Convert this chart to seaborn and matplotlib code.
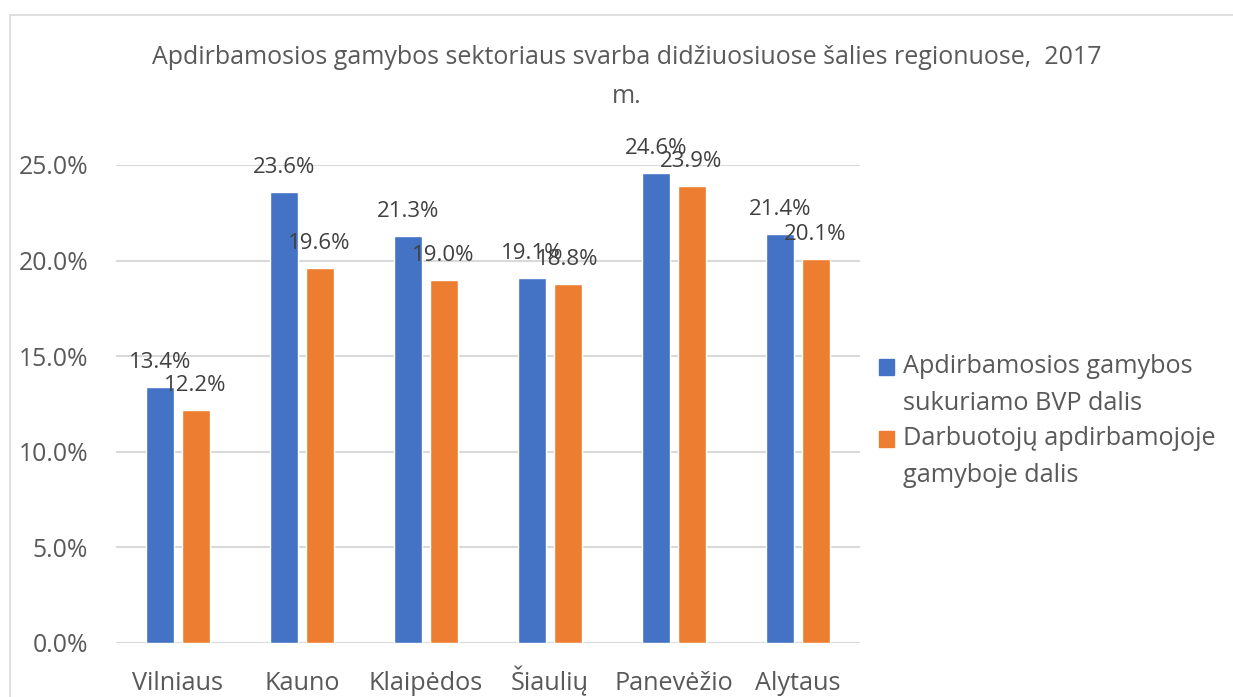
import matplotlib
matplotlib.use("Agg")
import matplotlib.pyplot as plt
import seaborn as sns
import pandas as pd
from matplotlib.patches import Rectangle
from matplotlib.legend_handler import HandlerPatch
from matplotlib.ticker import FuncFormatter, MultipleLocator

regions = ["Vilniaus", "Kauno", "Klaipėdos", "Šiaulių", "Panevėžio", "Alytaus"]
series_names = ["Apdirbamosios gamybos\nsukuriamo BVP dalis",
                "Darbuotojų apdirbamojoje\ngamyboje dalis"]
gdp_share = [13.4, 23.6, 21.3, 19.1, 24.6, 21.4]
emp_share = [12.2, 19.6, 19.0, 18.8, 23.9, 20.1]
title = "Apdirbamosios gamybos sektoriaus svarba didžiuosiuose šalies regionuose,  2017\nm."

colors = ["#4472C4", "#ED7D31"]
text_color = "#595959"
label_color = "#404040"
grid_color = "#D9D9D9"

df = pd.DataFrame({
    "region": regions * 2,
    "value": gdp_share + emp_share,
    "series": [series_names[0]] * len(regions) + [series_names[1]] * len(regions),
})

sns.set_theme(style="white")
plt.rcParams["font.family"] = ["Open Sans", "DejaVu Sans"]

fig = plt.figure(figsize=(12.33, 6.97), dpi=100)
ax = fig.add_axes([116 / 1233, 1 - 643 / 697, (860 - 116) / 1233, (643 - 165) / 697])

sns.barplot(data=df, x="region", y="value", hue="series", palette=colors,
            width=0.565, gap=0.2, ax=ax, legend=False, saturation=1)

for cont in ax.containers:
    ax.bar_label(cont, labels=[f"{v:.1f}%" for v in cont.datavalues],
                 padding=10, fontsize=16, color=label_color)

ax.set_ylim(0, 25)
ax.yaxis.set_major_locator(MultipleLocator(5))
ax.yaxis.set_major_formatter(FuncFormatter(lambda v, p: f"{v:.1f}%"))
ax.set_xlim(-0.5, len(regions) - 0.5)
ax.set_xlabel("")
ax.set_ylabel("")
ax.grid(axis="y", color=grid_color, linewidth=1.5)
ax.set_axisbelow(True)
for s in ax.spines.values():
    s.set_visible(False)
ax.tick_params(axis="y", length=0, labelsize=17.8, colors=text_color, pad=20)
ax.tick_params(axis="x", length=0, labelsize=18.2, colors=text_color, pad=34)
for t in ax.get_xticklabels():
    t.set_verticalalignment("baseline")


def make_patch(legend, orig_handle, xdescent, ydescent, width, height, fontsize):
    return Rectangle((-xdescent, -ydescent + 0.74 * fontsize), width, height)


handles = [Rectangle((0, 0), 1, 1, color=c) for c in colors]
leg = fig.legend(handles, series_names, loc="center left",
                 bbox_to_anchor=(856 / 1233, 1 - 421 / 697), frameon=False,
                 fontsize=18.2, handlelength=0.6, handleheight=0.6,
                 handletextpad=0.36, labelspacing=0.42, labelcolor=text_color,
                 handler_map={Rectangle: HandlerPatch(patch_func=make_patch)})
for t in leg.get_texts():
    t.set_linespacing(1.6)

fig.text(627 / 1233, 1 - 77 / 697, title, ha="center", va="center",
         fontsize=18, color=text_color, linespacing=1.7)

fig.patches.append(Rectangle((10 / 1233, -0.2), 1.2, 1.2 - 15 / 697,
                             transform=fig.transFigure, fill=False,
                             edgecolor=grid_color, linewidth=1.2))

fig.savefig("out.png", dpi=100)
